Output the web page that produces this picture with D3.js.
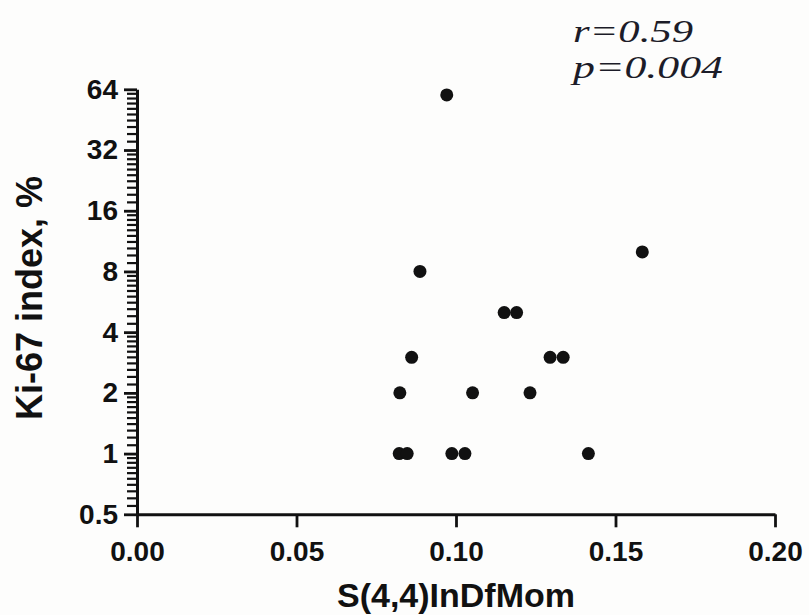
<!DOCTYPE html>
<html>
<head>
<meta charset="utf-8">
<script src="https://cdn.jsdelivr.net/npm/d3@7"></script>
<style>
  body { margin: 0; background: #fdfdfc; }
  svg { display: block; }
</style>
</head>
<body>
<script>
// Data
var xValues = [0.0971, 0.1584, 0.0887, 0.1151, 0.1190, 0.0861, 0.1295, 0.1336,
               0.0824, 0.1052, 0.1232, 0.0822, 0.0847, 0.0987, 0.1028, 0.1415];
var kiValues = [60, 10, 8, 5, 5, 3, 3, 3, 2, 2, 2, 1, 1, 1, 1, 1];
var xTicks = [0, 0.05, 0.10, 0.15, 0.20];
var yTicks = [0.5, 1, 2, 4, 8, 16, 32, 64];
var yTickLabels = ["0.5", "1", "2", "4", "8", "16", "32", "64"];
var statLines = ["r=0.59", "p=0.004"];

var width = 809, height = 615;

var svg = d3.select("body").append("svg")
    .attr("width", width)
    .attr("height", height);

// Scales
var x = d3.scaleLinear()
    .domain([0, 0.20])
    .range([137, 775]);

var y = d3.scaleLog()
    .base(2)
    .domain([0.5, 64])
    .range([514.3, 89.3]);

var font = "'Liberation Sans', Arial, sans-serif";

// minor ticks: linear steps inside each octave
var minorTicks = [];
yTicks.slice(0, -1).forEach(function(lo) {
  d3.range(1, 10).forEach(function(k) { minorTicks.push(lo * (1 + k / 10)); });
});

// Y axis
var yAxis = d3.axisLeft(y)
    .tickValues(yTicks)
    .tickFormat(function(d, i) { return yTickLabels[i]; })
    .tickSize(13)
    .tickSizeOuter(0)
    .tickPadding(6);

var gy = svg.append("g")
    .attr("transform", "translate(137,0)")
    .call(yAxis);

// X axis
var xAxis = d3.axisBottom(x)
    .tickValues(xTicks)
    .tickFormat(d3.format(".2f"))
    .tickSize(13)
    .tickSizeOuter(0);

var gx = svg.append("g")
    .attr("transform", "translate(0,514.3)")
    .call(xAxis);

gx.selectAll("text").attr("y", 46.5).attr("dy", 0);

[gx, gy].forEach(function(g) {
  g.select(".domain").attr("stroke", "#111").attr("stroke-width", 3);
  g.selectAll(".tick line").attr("stroke", "#111").attr("stroke-width", 2.8);
  g.selectAll("text")
      .attr("fill", "#111")
      .style("font-family", font)
      .style("font-weight", "bold")
      .style("font-size", "28px");
});

// minor ticks on the y axis
svg.append("g")
    .attr("class", "minor")
    .selectAll("path")
    .data(minorTicks)
    .enter().append("path")
    .attr("d", function(d) { return "M127," + y(d) + "H137"; })
    .attr("stroke", "#111")
    .attr("stroke-width", 2.2)
    .attr("fill", "none");

// Axis titles
svg.append("text")
    .attr("text-anchor", "middle")
    .attr("x", 456)
    .attr("y", 607)
    .attr("fill", "#111")
    .style("font-family", font)
    .style("font-weight", "bold")
    .style("font-size", "34px")
    .text("S(4,4)InDfMom");

svg.append("text")
    .attr("text-anchor", "middle")
    .attr("transform", "translate(42,298) rotate(-90)")
    .attr("fill", "#111")
    .style("font-family", font)
    .style("font-weight", "bold")
    .style("font-size", "36px")
    .text("Ki-67 index, %");

// Points
svg.selectAll(".dot")
    .data(xValues)
    .enter().append("circle")
    .attr("class", "dot")
    .attr("r", 6.5)
    .attr("cx", function(d) { return x(d); })
    .attr("cy", function(d, i) { return y(kiValues[i]); })
    .attr("fill", "#111");

// Statistics
svg.selectAll(".stat")
    .data(statLines)
    .enter().append("text")
    .attr("class", "stat")
    .attr("x", 573)
    .attr("y", function(d, i) { return 42 + i * 36; })
    .attr("textLength", function(d, i) { return i === 0 ? 120 : 150; })
    .attr("lengthAdjust", "spacingAndGlyphs")
    .attr("fill", "#1c1c28")
    .style("font-family", "'Liberation Serif', 'Times New Roman', serif")
    .style("font-style", "italic")
    .style("font-size", "31px")
    .text(function(d) { return d; });
</script>
</body>
</html>
